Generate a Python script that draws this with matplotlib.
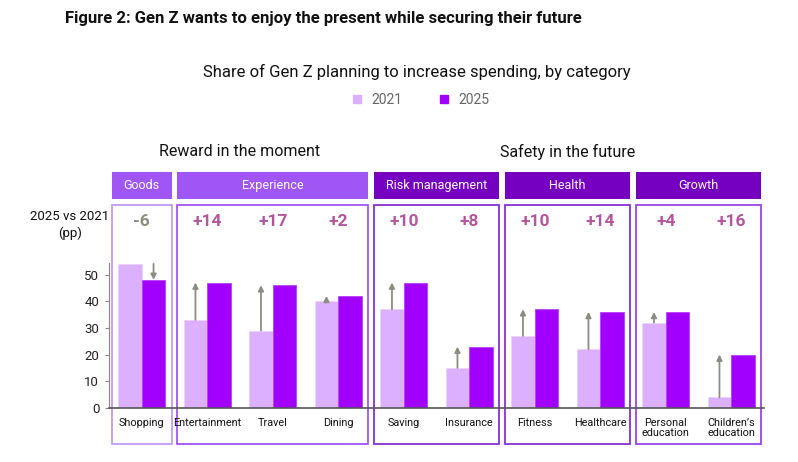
import matplotlib.pyplot as plt
import numpy as np
from matplotlib.patches import Rectangle
from matplotlib.lines import Line2D
from matplotlib.transforms import blended_transform_factory

# data
categories = ['Shopping', 'Entertainment', 'Travel', 'Dining', 'Saving', 'Insurance',
              'Fitness', 'Healthcare', 'Personal\neducation', 'Children\u2019s\neducation']
share_2021 = [54, 33, 29, 40, 37, 15, 27, 22, 32, 4]
share_2025 = [48, 47, 46, 42, 47, 23, 37, 36, 36, 20]
diff_pp = ['-6', '+14', '+17', '+2', '+10', '+8', '+10', '+14', '+4', '+16']

# header groups: (name, first index, last index)
groups = [('Goods', 0, 0), ('Experience', 1, 3), ('Risk management', 4, 5),
          ('Health', 6, 7), ('Growth', 8, 9)]
sections = [('Reward in the moment', 0, 3), ('Safety in the future', 4, 9)]

c21 = '#dcafff'
c25 = '#a100ff'
header_colors = ['#a055f5', '#a055f5', '#7500c0', '#7500c0', '#7500c0']
panel_colors = ['#c39bf7', '#a055f5', '#8a2fd6', '#8a2fd6', '#9a45e6']
arrow_col = '#8c8c80'
diff_col = '#b4569e'

plt.rcParams['font.family'] = ['Roboto', 'DejaVu Sans']

fig = plt.figure(figsize=(7.98, 4.62), dpi=100)
ax = fig.add_axes([0.1366, 0.1169, 0.8208, 0.3132])

x = np.arange(len(categories))
w = 0.36
ax.bar(x - w / 2, share_2021, w, color=c21, edgecolor='#ecd3ff', linewidth=0.6)
ax.bar(x + w / 2, share_2025, w, color=c25, edgecolor='#b640ff', linewidth=0.6)

# change arrows
for i in range(len(categories)):
    a, b = share_2021[i], share_2025[i]
    ax_x = x[i] - w / 2 if b >= a else x[i] + w / 2
    ax.annotate('', xy=(ax_x, b), xytext=(ax_x, a),
                arrowprops=dict(arrowstyle='-|>', color=arrow_col, lw=1.3,
                                mutation_scale=8, shrinkA=0, shrinkB=0))

ax.set_xlim(-0.5, 9.5)
ax.set_ylim(0, 54.2)
ax.set_yticks([0, 10, 20, 30, 40, 50])
ax.tick_params(axis='y', labelsize=9.5, length=3, color='#888888', labelcolor='#222222', pad=4)
ax.set_xticks(x)
ax.set_xticklabels(categories, fontsize=7.8, linespacing=1.0, color='#111111')
ax.tick_params(axis='x', length=0, pad=7)
for s in ['top', 'right']:
    ax.spines[s].set_visible(False)
ax.spines['bottom'].set_color('#555555')
ax.spines['bottom'].set_linewidth(1.2)
ax.spines['left'].set_color('#888888')

# panels and headers: x in data units, y in figure fraction
tr = blended_transform_factory(ax.transData, fig.transFigure)
gap = 0.045
for (name, i0, i1), hc, pc in zip(groups, header_colors, panel_colors):
    x0 = i0 - 0.5 + gap
    x1 = i1 + 0.5 - gap
    ax.add_patch(Rectangle((x0, 0.5703), x1 - x0, 0.0574, transform=tr,
                           facecolor=hc, edgecolor='none', clip_on=False))
    ax.text((x0 + x1) / 2, 0.599, name, transform=tr, ha='center', va='center',
            color='white', fontsize=9)
    ax.add_patch(Rectangle((x0, 0.039), x1 - x0, 0.5173, transform=tr,
                           facecolor='none', edgecolor=pc, linewidth=1.3, clip_on=False))

for name, i0, i1 in sections:
    ax.text((i0 + i1) / 2, 0.671, name, transform=tr, ha='center', va='center',
            fontsize=11.5, color='#111111')

for i, d in enumerate(diff_pp):
    ax.text(x[i], 0.5195, d, transform=tr, ha='center', va='center', fontsize=12.5,
            fontweight='bold', color=arrow_col if d.startswith('-') else diff_col)

fig.text(70 / 798, 1 - 225 / 462, '2025 vs 2021\n(pp)', ha='center', va='center',
         fontsize=9.5, linespacing=1.3, color='#111111')

fig.text(65 / 798, 1 - 19 / 462,
         'Figure 2: Gen Z wants to enjoy the present while securing their future',
         fontsize=12, fontweight='bold', va='center', ha='left', color='#111111')
fig.text(417 / 798, 1 - 72 / 462, 'Share of Gen Z planning to increase spending, by category',
         fontsize=12, va='center', ha='center', color='#111111')

handles = [Line2D([], [], marker='s', linestyle='none', markersize=6, color=c21),
           Line2D([], [], marker='s', linestyle='none', markersize=6, color=c25)]
fig.legend(handles, ['2021', '2025'], loc='center', bbox_to_anchor=(416 / 798, 1 - 100 / 462),
           ncol=2, frameon=False, fontsize=10, handletextpad=0.05, columnspacing=2.0,
           labelcolor='#666666')

fig.savefig('out.png', dpi=100)
